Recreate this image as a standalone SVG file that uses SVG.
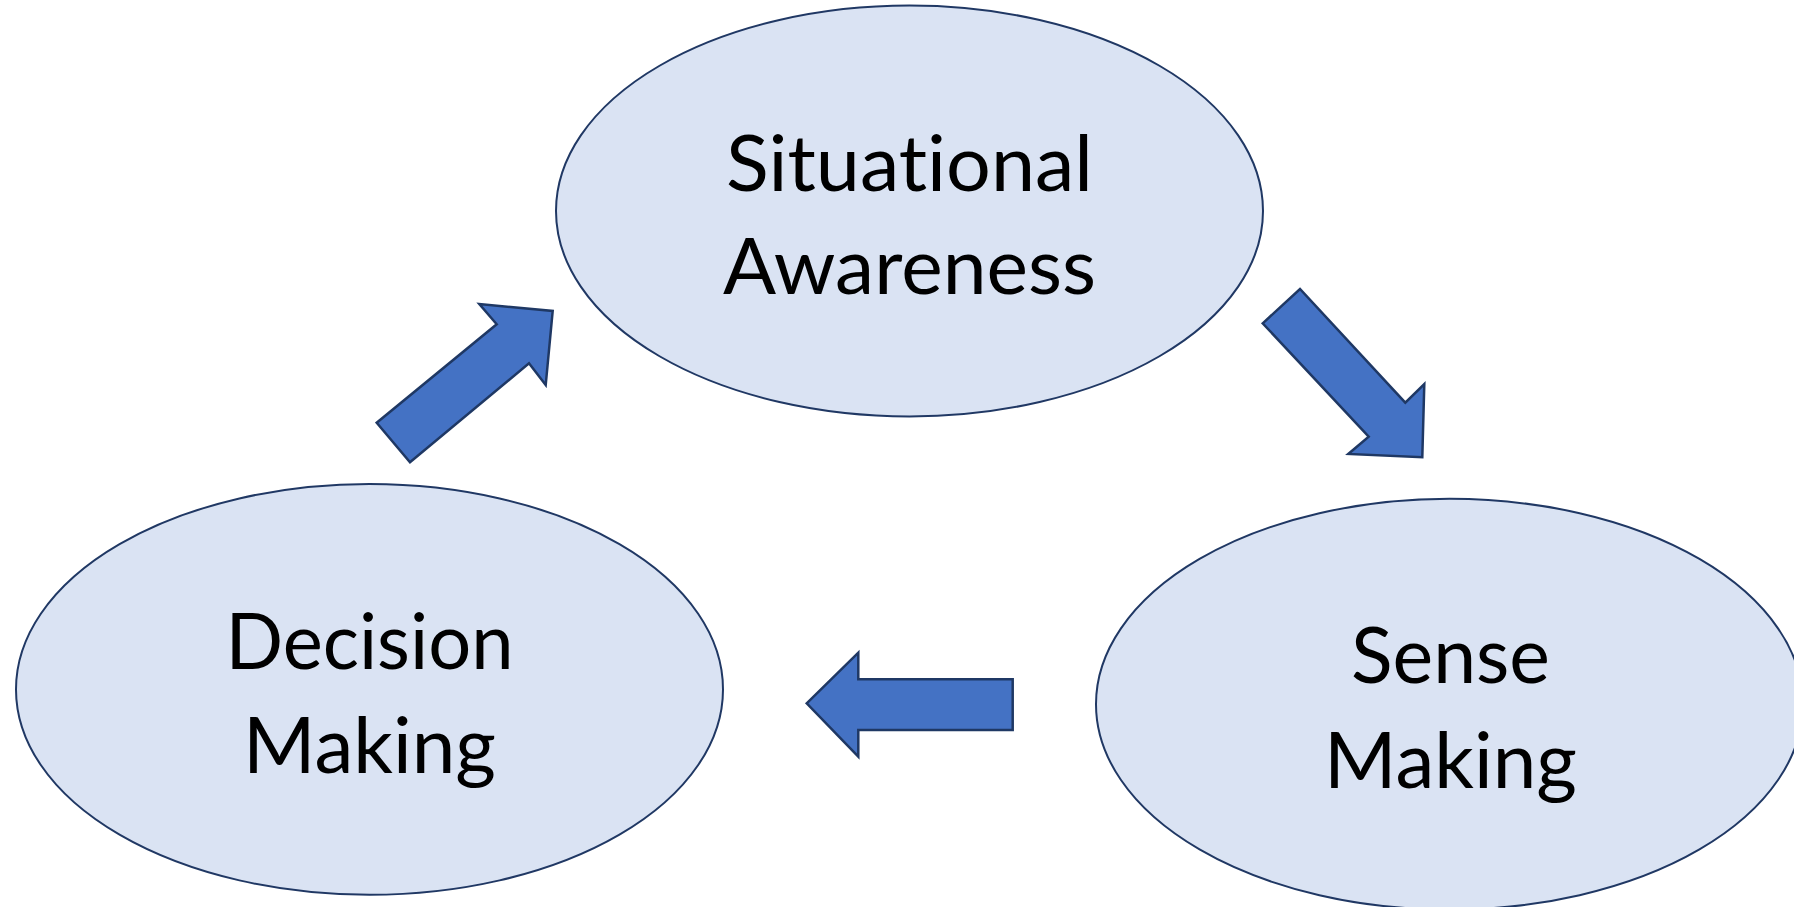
<svg xmlns="http://www.w3.org/2000/svg" width="1794" height="907" viewBox="0 0 1794 907">
<style>
.node{fill:#DAE3F3;stroke:#203864;stroke-width:2}
.arrow{fill:#4472C4;stroke:#1F3864;stroke-width:2.5;stroke-linejoin:miter}
.lbl{font-family:Lato,"Open Sans","Liberation Sans",sans-serif;font-size:78px;fill:#000;text-anchor:middle;font-variant-ligatures:none;font-feature-settings:"liga" 0,"clig" 0,"dlig" 0}
</style>
<rect width="1794" height="907" fill="#fff"/>
<g id="situational-awareness">
<ellipse class="node" cx="909.5" cy="211" rx="353.5" ry="205.4"/>
<text class="lbl" x="909.5" y="191" textLength="367" lengthAdjust="spacingAndGlyphs">Situational</text>
<text class="lbl" x="909.5" y="294" textLength="373" lengthAdjust="spacingAndGlyphs">Awareness</text>
</g>
<g id="decision-making">
<ellipse class="node" cx="369.5" cy="689.4" rx="353.5" ry="205.4"/>
<text class="lbl" x="369.5" y="669" textLength="288" lengthAdjust="spacingAndGlyphs">Decision</text>
<text class="lbl" x="369.5" y="773" textLength="253" lengthAdjust="spacingAndGlyphs">Making</text>
</g>
<g id="sense-making">
<ellipse class="node" cx="1449.5" cy="704.2" rx="353.5" ry="205.4"/>
<text class="lbl" x="1450.5" y="683" textLength="199" lengthAdjust="spacingAndGlyphs">Sense</text>
<text class="lbl" x="1450.5" y="788" textLength="253" lengthAdjust="spacingAndGlyphs">Making</text>
</g>
<g id="connectors">
<polygon class="arrow" points="376.7,422.7 410,462.3 529,363.3 545.7,385 552.7,311 479.3,304 496.7,324.3"/>
<polygon class="arrow" points="1262.7,323.3 1300,289 1405.3,402.7 1424.3,384 1422.3,457.3 1348.3,454 1368.7,436.7"/>
<polygon class="arrow" points="806.7,703.3 858.3,652.7 858.3,679.3 1012.7,679.3 1012.7,730 858.3,730 858.3,756.7"/>
</g>
</svg>
